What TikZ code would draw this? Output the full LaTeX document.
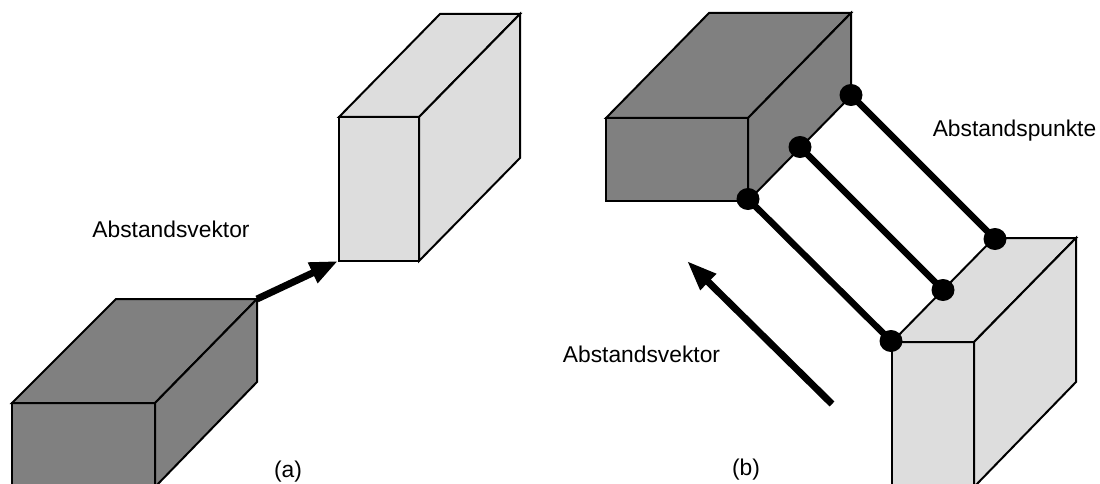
\documentclass[tikz,border=0pt]{standalone}
\usepackage{fontspec}
\setmainfont{Liberation Sans}
\usetikzlibrary{arrows.meta,shapes.geometric}
\definecolor{darkface}{RGB}{128,128,128}
\definecolor{lightface}{RGB}{221,221,221}
\begin{document}
\begin{tikzpicture}[x=1pt,y=-1pt,
  face/.style={draw=black,line width=2pt,line join=miter},
  darkbox/.style={face,fill=darkface},
  lightbox/.style={face,fill=lightface},
  link/.style={line width=6.5pt},
  dot/.style={ellipse,fill=black,inner sep=0pt,minimum width=23pt,minimum height=22pt},
  vec/.style={line width=7pt,-{Triangle[length=28pt,width=21pt]}},
  lbl/.style={anchor=base,inner sep=0pt,font=\fontsize{22.8}{27}\selectfont}]
\useasboundingbox (0,0) rectangle (1100,484);
\clip (0,0) rectangle (1100,484);

% ---------- (a) ----------
% dark block, lower left
\coordinate (a1f) at (12,403);  \coordinate (a1g) at (155,403);
\coordinate (a1b) at (116,299); \coordinate (a1c) at (257,299);
\coordinate (a1r) at (257,382);
\coordinate (a1h) at (155,487); \coordinate (a1e) at (12,487);
\draw[darkbox] (a1f) -- (a1g) -- (a1h) -- (a1e) -- cycle;
\draw[darkbox] (a1f) -- (a1b) -- (a1c) -- (a1g) -- cycle;
\draw[darkbox] (a1g) -- (a1c) -- (a1r) -- (a1h) -- cycle;

% light block, upper right
\coordinate (a2f) at (339,117); \coordinate (a2g) at (419,117);
\coordinate (a2b) at (440,14);  \coordinate (a2c) at (520,14);
\coordinate (a2r) at (520,158);
\coordinate (a2h) at (419,261); \coordinate (a2e) at (339,261);
\draw[lightbox] (a2f) -- (a2g) -- (a2h) -- (a2e) -- cycle;
\draw[lightbox] (a2f) -- (a2b) -- (a2c) -- (a2g) -- cycle;
\draw[lightbox] (a2g) -- (a2c) -- (a2r) -- (a2h) -- cycle;

% distance vector between the blocks
\draw[vec] (a1c) -- ([xshift=-1pt]a2e);

\node[lbl] (la) at (171,237) {Abstandsvektor};
\node[lbl] (ca) at (288,477) {(a)};

% ---------- (b) ----------
% dark block, upper left
\coordinate (b1f) at (606,118); \coordinate (b1g) at (748,118);
\coordinate (b1b) at (709,13);  \coordinate (b1c) at (851,13);
\coordinate (b1r) at (851,96);
\coordinate (b1h) at (748,201); \coordinate (b1e) at (606,201);
\draw[darkbox] (b1f) -- (b1g) -- (b1h) -- (b1e) -- cycle;
\draw[darkbox] (b1f) -- (b1b) -- (b1c) -- (b1g) -- cycle;
\draw[darkbox] (b1g) -- (b1c) -- (b1r) -- (b1h) -- cycle;
\draw[line width=1pt] (b1h) -- (b1r);

% light block, lower right
\coordinate (b2f) at (892,342); \coordinate (b2g) at (974,342);
\coordinate (b2b) at (994,238); \coordinate (b2c) at (1076,238);
\coordinate (b2r) at (1076,382);
\coordinate (b2h) at (974,487); \coordinate (b2e) at (892,487);
\draw[lightbox] (b2f) -- (b2g) -- (b2h) -- (b2e) -- cycle;
\draw[lightbox] (b2f) -- (b2b) -- (b2c) -- (b2g) -- cycle;
\draw[lightbox] (b2g) -- (b2c) -- (b2r) -- (b2h) -- cycle;

% distance points and their connecting segments
\coordinate (p1) at (748,199); \coordinate (p2) at (800,147); \coordinate (p3) at (851,95);
\coordinate (q1) at (891,341); \coordinate (q2) at (943,290); \coordinate (q3) at (995,239);
\draw[link] (p1) -- (q1);
\draw[link] (p2) -- (q2);
\draw[link] (p3) -- (q3);
\foreach \n in {p1,p2,p3,q1,q2,q3} \node[dot] (d\n) at (\n) {};

% distance vector
\coordinate (vt) at (832,404); \coordinate (vh) at (687,261);
\draw[vec,-{Triangle[length=30pt,width=21pt]}] (vt) -- (vh);

\node[lbl] (lb) at (641.5,362) {Abstandsvektor};
\node[lbl] (lp) at (1014.5,137) {Abstandspunkte};
\node[lbl] (cb) at (746,475) {(b)};
\end{tikzpicture}
\end{document}
